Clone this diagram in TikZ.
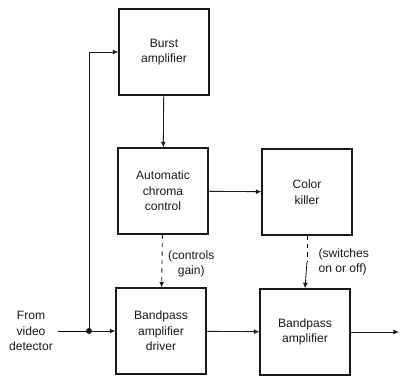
\documentclass[tikz,border=0pt]{standalone}
\usepackage{fontspec}
\setmainfont{Liberation Sans}
\usetikzlibrary{arrows.meta,positioning}
\definecolor{ink}{HTML}{1A1A1A}
\tikzset{
  >={Latex[length=4pt,width=3.5pt]},
  every node/.style={font=\fontsize{8.6}{11}\selectfont,text=ink},
  box/.style={draw=ink,thick,minimum width=2.25cm,minimum height=2.15cm,align=center,inner sep=3pt},
  arrow/.style={->,semithick,draw=ink},
  ctrl/.style={->,semithick,dashed,draw=ink},
  label/.style={align=left,inner sep=1pt},
}

\begin{document}
\begin{tikzpicture}[x=0.025cm,y=-0.025cm]
  \useasboundingbox (0,0) rectangle (400,380);
  \node[box] (burst) at (164,52) {Burst\\amplifier};
  \node[box] (acc) at (163,191) {Automatic\\chroma\\control};
  \node[box] (killer) at (307,192) {Color\\killer};
  \node[box] (driver) at (161,331) {Bandpass\\amplifier\\driver};
  \node[box] (bpamp) at (305,332) {Bandpass\\amplifier};
  \node[align=center] (video) at (31,331) {From\\video\\detector};
  \coordinate (split) at (89,331);
  \coordinate (mid) at (307,262);
  \coordinate (out) at (399,332);

  \draw[semithick] (video.east) -- (split);
  \fill[ink] (split) circle (3);
  \draw[arrow] (split) -- (driver);
  \draw[arrow] (split) |- (burst.west);
  \draw[arrow] (burst) -- (acc);
  \draw[arrow] (acc) -- (killer);
  \draw[ctrl] (acc) -- node[label,align=center,right,xshift=3pt,yshift=-2pt]{(controls\\gain)} (driver);
  \draw[semithick,dashed] (killer) -- (mid);
  \draw[arrow] (mid) -- (bpamp.north);
  \node[label,right=7pt of mid,yshift=0pt] (note) {(switches\\on or off)};
  \draw[arrow] (driver) -- (bpamp);
  \draw[arrow] (bpamp) -- (out);
\end{tikzpicture}
\end{document}
